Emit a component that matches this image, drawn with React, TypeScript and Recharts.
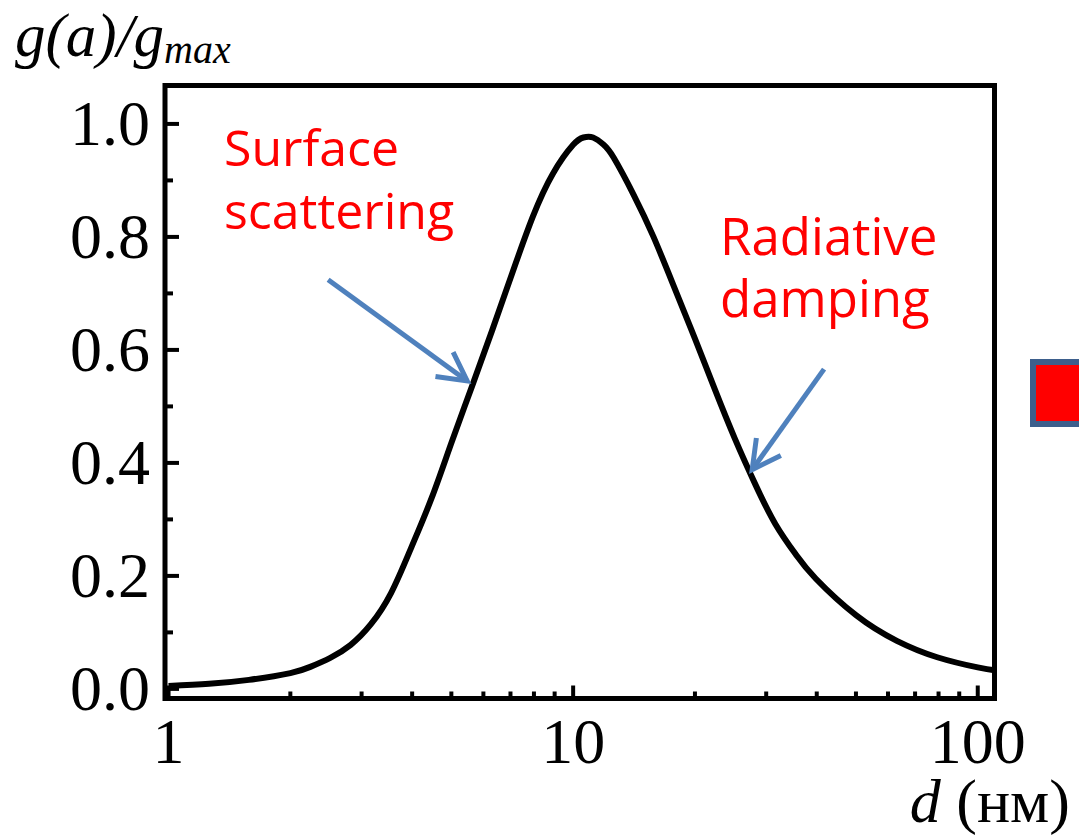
import React from 'react';
import { LineChart, Line, XAxis, YAxis, ReferenceArea, ReferenceLine } from 'recharts';

// Particle diameter d (nm) and normalised response g(a)/g_max
const SIZE_NM = [
  1, 1.26, 1.58, 2, 2.24, 2.51, 2.82, 3.16, 3.55, 3.98, 4.47, 5.01, 5.62, 6.31, 7.08, 7.94,
  8.91, 10, 10.6, 11.2, 11.9, 12.6, 14.1, 15.8, 17.8, 20, 22.4, 25.1, 28.2, 31.6, 35.5, 39.8,
  50.1, 63.1, 79.4, 100, 110,
];
const G_RATIO = [
  0.005, 0.009, 0.016, 0.028, 0.039, 0.055, 0.078, 0.114, 0.17, 0.25, 0.338, 0.437, 0.535,
  0.635, 0.737, 0.835, 0.912, 0.963, 0.976, 0.976, 0.963, 0.94, 0.875, 0.8, 0.71, 0.62, 0.53,
  0.443, 0.362, 0.292, 0.238, 0.195, 0.13, 0.085, 0.056, 0.038, 0.033,
];

const X_TICKS = [1, 2, 3, 4, 5, 6, 7, 8, 9, 10, 20, 30, 40, 50, 60, 70, 80, 90, 100];
const X_LABELS = [1, 10, 100];
const Y_TICKS = [0, 0.1, 0.2, 0.3, 0.4, 0.5, 0.6, 0.7, 0.8, 0.9, 1.0];
const Y_LABELS = [0, 0.2, 0.4, 0.6, 0.8, 1.0];
const X_DOMAIN: [number, number] = [0.98, 110];
const Y_DOMAIN: [number, number] = [-0.017, 1.068];

// Annotation arrows, in data coordinates (tail -> head)
const ARROW_TAILS = [{ x: 2.48, y: 0.724 }, { x: 41.7, y: 0.566 }];
const ARROW_HEADS = [{ x: 5.47, y: 0.545 }, { x: 27.7, y: 0.388 }];

const rows = SIZE_NM.map((d, i) => ({ d, g: G_RATIO[i] }));

const SERIF = '"Liberation Serif", "Times New Roman", serif';
const SANS = '"Open Sans", "Noto Sans", sans-serif';
const ARROW_BLUE = '#4F81BD';

const W = 1079;
const H = 837;

const XTick = (props: any) => {
  const { x, y, payload } = props;
  const major = X_LABELS.includes(payload.value);
  return (
    <g>
      <line x1={x} x2={x} y1={y} y2={y - (major ? 13 : 7)} stroke="#000" strokeWidth={4} />
      {major && (
        <text x={x} y={y + 64} textAnchor="middle" fontFamily={SERIF} fontSize={64} fill="#000">
          {payload.value}
        </text>
      )}
    </g>
  );
};

const YTick = (props: any) => {
  const { x, y, payload } = props;
  const major = Y_LABELS.some((v) => Math.abs(v - payload.value) < 1e-9);
  return (
    <g>
      <line x1={x} x2={x + (major ? 14 : 8)} y1={y} y2={y} stroke="#000" strokeWidth={4} />
      {major && (
        <text x={x - 15} y={y + 21} textAnchor="end" fontFamily={SERIF} fontSize={64} fill="#000">
          {payload.value.toFixed(1)}
        </text>
      )}
    </g>
  );
};

// Straight arrow with an open chevron head at the second point
const Arrow = (props: any) => {
  const { x1, y1, x2, y2 } = props;
  const ang = Math.atan2(y2 - y1, x2 - x1);
  const len = 32;
  const spread = (28 * Math.PI) / 180;
  const ax = x2 - len * Math.cos(ang - spread);
  const ay = y2 - len * Math.sin(ang - spread);
  const bx = x2 - len * Math.cos(ang + spread);
  const by = y2 - len * Math.sin(ang + spread);
  return (
    <g fill="none" stroke={ARROW_BLUE} strokeWidth={5} strokeLinejoin="miter">
      <line x1={x1} y1={y1} x2={x2} y2={y2} />
      <polyline points={`${ax},${ay} ${x2},${y2} ${bx},${by}`} />
    </g>
  );
};

export default function App() {
  return (
    <div style={{ position: 'absolute', left: 0, top: 0, width: W, height: H, background: '#fff' }}>
      <LineChart
        width={W}
        height={H}
        data={rows}
        margin={{ top: 85.5, right: 84.5, bottom: 137.5, left: 164 }}
      >
        <XAxis
          dataKey="d"
          type="number"
          scale="log"
          domain={X_DOMAIN}
          allowDataOverflow
          ticks={X_TICKS}
          interval={0}
          height={1}
          tickSize={0}
          tickMargin={0}
          axisLine={false}
          tickLine={false}
          tick={<XTick />}
        />
        <YAxis
          type="number"
          domain={Y_DOMAIN}
          allowDataOverflow
          ticks={Y_TICKS}
          interval={0}
          width={1}
          tickSize={0}
          tickMargin={0}
          axisLine={false}
          tickLine={false}
          tick={<YTick />}
        />
        <Line
          type="natural"
          dataKey="g"
          stroke="#000"
          strokeWidth={6}
          dot={false}
          isAnimationActive={false}
        />
        <ReferenceArea
          x1={X_DOMAIN[0]}
          x2={X_DOMAIN[1]}
          y1={Y_DOMAIN[0]}
          y2={Y_DOMAIN[1]}
          fill="none"
          stroke="#000"
          strokeWidth={5}
          ifOverflow="visible"
        />
        {ARROW_TAILS.map((t, i) => (
          <ReferenceLine
            key={i}
            segment={[t, ARROW_HEADS[i]]}
            ifOverflow="visible"
            shape={<Arrow />}
          />
        ))}
      </LineChart>
      <svg
        width={W}
        height={H}
        style={{ position: 'absolute', left: 0, top: 0, pointerEvents: 'none' }}
      >
        <text x={15} y={56} fontFamily={SERIF} fontStyle="italic" fontSize={61} fill="#000">
          g(a)/g
          <tspan fontSize={40} dy={7}>max</tspan>
        </text>
        <text x={1070} y={822} textAnchor="end" fontFamily={SERIF} fontSize={62} fill="#000">
          <tspan fontStyle="italic">d</tspan> (нм)
        </text>
        <text fontFamily={SANS} fontSize={50} fill="#FF0000">
          <tspan x={224} y={166}>Surface</tspan>
          <tspan x={224} y={229}>scattering</tspan>
        </text>
        <text fontFamily={SANS} fontSize={51} fill="#FF0000">
          <tspan x={720} y={255}>Radiative</tspan>
          <tspan x={720} y={317}>damping</tspan>
        </text>
        <rect x={1033} y={362} width={70} height={62} fill="#FF0000" stroke="#3D5F8C" strokeWidth={6} />
      </svg>
    </div>
  );
}
